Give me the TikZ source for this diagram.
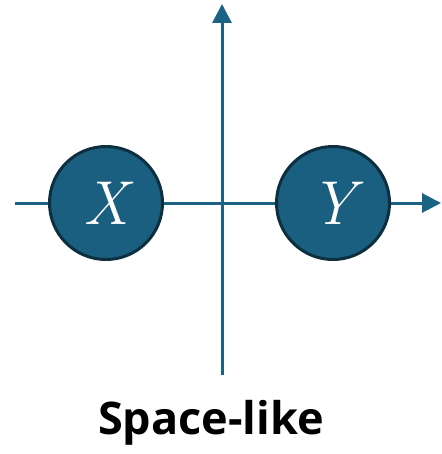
\documentclass[tikz,border=0pt]{standalone}
\usepackage{fontspec}
\setsansfont{Open Sans}
\usepackage{tikz}
\usetikzlibrary{positioning,arrows.meta}
\definecolor{axisblue}{HTML}{1A6385}
\definecolor{ballfill}{HTML}{1A5F80}
\definecolor{balledge}{HTML}{0D2F40}

\begin{document}
\begin{tikzpicture}[x=1pt,y=-1pt,
    axis/.style={draw=axisblue,line width=3pt,-{Triangle[length=19pt,width=19pt]}},
    ball/.style={circle,fill=ballfill,draw=balledge,line width=3pt,minimum size=113pt,inner sep=0pt,text=white,font=\itshape\fontsize{62}{64}\selectfont}]
    \useasboundingbox (0,0) rectangle (441,454);
    \coordinate (west) at (15,203);
    \coordinate (east) at (441,203);
    \coordinate (south) at (222,375);
    \coordinate (north) at (222,4);
    \draw[axis] (west) -- (east);
    \draw[axis] (south) -- (north);
    \node[ball] (x) at (106,203) {X};
    \node[ball] (y) at (333,203) {Y};
    \node[font=\sffamily\bfseries\fontsize{45}{48}\selectfont] (label) at (211,423) {Space-like};
\end{tikzpicture}
\end{document}
